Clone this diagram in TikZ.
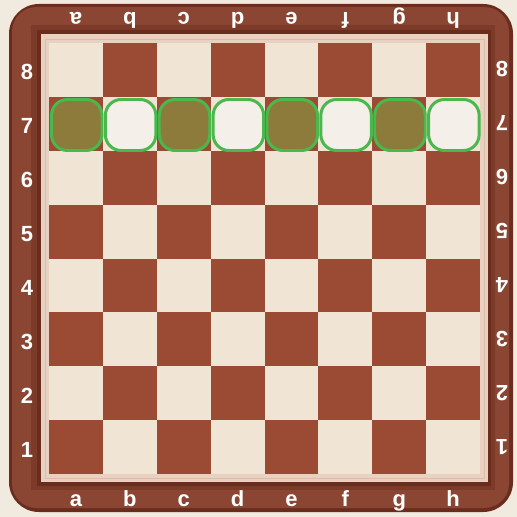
\documentclass[tikz,border=0pt]{standalone}
\usepackage{fontspec}
\setmainfont{Liberation Sans}
\usepackage{tikz}
\definecolor{paper}{HTML}{F1EADF}
\definecolor{rimdark}{HTML}{6A2D1D}
\definecolor{rim}{HTML}{8A4632}
\definecolor{rimmid}{HTML}{7C3B28}
\definecolor{inlay}{HTML}{E8D1C0}
\definecolor{inlayline}{HTML}{DCBDAC}
\definecolor{maple}{HTML}{F0E4D5}
\definecolor{mahogany}{HTML}{9B4A34}
\definecolor{olive}{HTML}{8C7B3A}
\definecolor{pale}{HTML}{F5EFE9}
\definecolor{mark}{HTML}{4AB84C}
\tikzset{
  coord/.style={text=white,font=\fontsize{12.5}{14}\selectfont\bfseries,inner sep=0pt,anchor=base},
  rankbox/.style={draw=mark,line width=1.7pt,rounded corners=9}
}

\begin{document}
\begin{tikzpicture}[x=0.02cm,y=-0.02cm]
            \fill[paper] (0,0) rectangle (517,517);
            \useasboundingbox (0,0) rectangle (517,517);
            % frame
            \fill[rimdark,rounded corners=17] (9,4) rectangle (513,512);
            \fill[rim,rounded corners=14] (12,7) rectangle (509,508);
            \fill[rimmid] (31,25) rectangle (495,490);
            \fill[rimdark] (37,30) rectangle (491,486);
            \fill[inlay] (41,34) rectangle (488,482);
            \draw[inlayline,line width=0.5pt] (45,39) rectangle (484,478);
            % squares
            \foreach \i in {0,...,7}{\foreach \j in {0,...,7}{
              \pgfmathtruncatemacro\odd{mod(\i+\j,2)}
              \ifnum\odd=0 \def\sq{maple}\else\def\sq{mahogany}\fi
              \fill[\sq] (49+53.875*\i,43+53.875*\j) rectangle +(53.875,53.875);}}
            % rank 7
            \foreach \i in {0,...,7}{
              \pgfmathtruncatemacro\odd{mod(\i,2)}
              \ifnum\odd=0 \def\sq{olive}\else\def\sq{pale}\fi
              \draw[rankbox,fill=\sq] (51.5+53.875*\i,99.5) rectangle +(50.5,51);}
            % coordinates
            \foreach \f [count=\i from 0] in {a,b,c,d,e,f,g,h}{
              \node[coord] (bot\f) at (76+53.875*\i,506) {\f};
              \node[coord,rotate=180] (top\f) at (76+53.875*\i,13) {\f};}
            \foreach \r in {1,...,8}{
              \pgfmathsetmacro\ry{43+53.875*(8-\r)}
              \node[coord] (left\r) at (27,\ry+37) {\r};
              \node[coord,rotate=180] (right\r) at (502,\ry+19) {\r};}
        \end{tikzpicture}
\end{document}
